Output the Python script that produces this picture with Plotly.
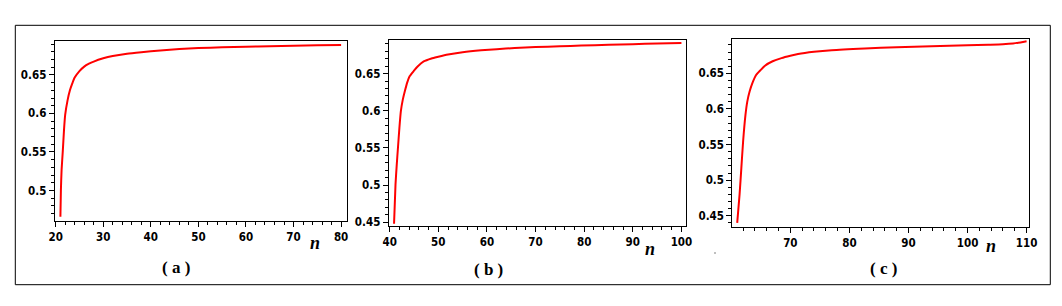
import plotly.graph_objects as go

# ---------------- data ----------------
n_a = [21, 21.1, 21.25, 21.5, 21.75, 22, 22.5, 23, 23.5, 24, 25, 26, 27, 28, 30, 32, 35, 38, 42, 46, 50, 55, 60, 65, 70, 75, 80]
f_a = [0.466, 0.500, 0.527, 0.551, 0.578, 0.598, 0.617, 0.630, 0.639, 0.6465, 0.655, 0.6608, 0.6645, 0.6673, 0.6715, 0.6745, 0.6775, 0.6795, 0.6818, 0.6836, 0.6848, 0.6858, 0.6866, 0.6873, 0.6879, 0.6884, 0.6889]

n_b = [40.9, 41.2, 41.45, 41.7, 42.0, 42.3, 42.7, 43.1, 43.6, 44.1, 45, 45.8, 47, 48.6, 50, 52, 55, 58.8, 62, 65.7, 70, 75, 79.4, 85, 90, 95, 100]
f_b = [0.448, 0.501, 0.527, 0.550, 0.577, 0.5995, 0.615, 0.626, 0.638, 0.6465, 0.654, 0.660, 0.6665, 0.6705, 0.6728, 0.6758, 0.6788, 0.6814, 0.683, 0.6845, 0.6858, 0.6869, 0.6878, 0.6888, 0.6897, 0.6905, 0.6913]

n_c = [61.0, 61.4, 61.7, 62.0, 62.4, 62.7, 63.1, 63.6, 64.2, 65, 65.7, 67, 68.5, 70, 71.3, 74, 77, 82.6, 88, 93.9, 100, 103.5, 106, 107.7, 108.6, 109.6, 110]
f_c = [0.440, 0.4796, 0.517, 0.5543, 0.5916, 0.610, 0.6244, 0.637, 0.6477, 0.655, 0.6608, 0.667, 0.6715, 0.6748, 0.6772, 0.6803, 0.6826, 0.685, 0.6868, 0.6882, 0.6895, 0.6903, 0.6910, 0.692, 0.693, 0.6944, 0.695]

xticks_a = [20, 30, 40, 50, 60, 70, 80]
xticks_b = [40, 50, 60, 70, 80, 90, 100]
xticks_c = [70, 80, 90, 100, 110]
yticks = [0.45, 0.5, 0.55, 0.6, 0.65]
ytick_text = ["0.45", "0.5", "0.55", "0.6", "0.65"]
panel_labels = ["( a )", "( b )", "( c )"]
axis_title = "n"

# ---------------- layout helpers ----------------
W, H = 1062, 306


def px(x):
    return x / W


def py(y):
    return 1 - y / H


panels = [
    dict(n=n_a, f=f_a, box=(46.7, 339.3, 33.3, 212.7), xr=[19.8, 81.3], yr=[0.4608, 0.6936],
         xt=xticks_a, nlab=(307, 235), plab=(168, 259)),
    dict(n=n_b, f=f_b, box=(380.7, 678.3, 32.3, 218.3), xr=[39.8, 101.0], yr=[0.4446, 0.6949],
         xt=xticks_b, nlab=(642, 241), plab=(480, 261)),
    dict(n=n_c, f=f_c, box=(724.3, 1021.3, 30.5, 219.0), xr=[60.17, 110.46], yr=[0.4342, 0.699],
         xt=xticks_c, nlab=(983, 238), plab=(875, 260)),
]

tickfont = dict(family="DejaVu Sans Condensed, Liberation Sans Narrow, sans-serif", size=11.5,
                color="black", weight="bold")

fig = go.Figure()
layout = dict(
    width=W, height=H,
    margin=dict(l=0, r=0, t=0, b=0, autoexpand=False),
    paper_bgcolor="white", plot_bgcolor="white",
    showlegend=False,
    annotations=[], shapes=[],
)

for i, p in enumerate(panels):
    k = "" if i == 0 else str(i + 1)
    fig.add_trace(go.Scatter(
        x=p["n"], y=p["f"], mode="lines",
        line=dict(color="#ff0000", width=2, shape="spline", smoothing=0.6),
        xaxis="x" + k, yaxis="y" + k, hoverinfo="skip",
    ))
    l, r, t, b = p["box"]
    common = dict(
        showline=True, linecolor="black", linewidth=1, mirror=True,
        ticks="outside", ticklen=5, tickwidth=1, tickcolor="black",
        showgrid=False, zeroline=False, tickfont=tickfont,
        ticklabelstandoff=0, automargin=False,
    )
    layout["xaxis" + k] = dict(
        domain=[px(l), px(r)], range=p["xr"], anchor="y" + k,
        tickvals=p["xt"], ticktext=[str(v) for v in p["xt"]],
        minor=dict(ticks="outside", ticklen=3, dtick=2, tick0=0, tickcolor="black", showgrid=False),
        **common,
    )
    layout["yaxis" + k] = dict(
        domain=[py(b), py(t)], range=p["yr"], anchor="x" + k,
        tickvals=yticks, ticktext=ytick_text,
        minor=dict(ticks="outside", ticklen=3, dtick=0.01, tick0=0, tickcolor="black", showgrid=False),
        **common,
    )
    layout["annotations"].append(dict(
        x=px(p["nlab"][0]), y=py(p["nlab"][1]), xref="paper", yref="paper",
        text="<b><i>" + axis_title + "</i></b>", showarrow=False,
        font=dict(family="Liberation Serif, Times New Roman, serif", size=18, color="black"),
        xanchor="center", yanchor="middle",
    ))
    layout["annotations"].append(dict(
        x=px(p["plab"][0]), y=py(p["plab"][1]), xref="paper", yref="paper",
        text="<b>" + panel_labels[i] + "</b>", showarrow=False,
        font=dict(family="Liberation Serif, Times New Roman, serif", size=17, color="black"),
        xanchor="center", yanchor="middle",
    ))

# outer frame
layout["shapes"].append(dict(
    type="rect", xref="paper", yref="paper",
    x0=px(7.3), x1=px(1042.3), y0=py(276.7), y1=py(17.3),
    line=dict(color="black", width=1), fillcolor="rgba(0,0,0,0)", layer="below",
))
# small stray dot
layout["shapes"].append(dict(
    type="rect", xref="paper", yref="paper",
    x0=px(706.5), x1=px(707.5), y0=py(245.5), y1=py(244.5),
    line=dict(width=0), fillcolor="black",
))

fig.update_layout(**layout)
fig.write_html("out.html")
